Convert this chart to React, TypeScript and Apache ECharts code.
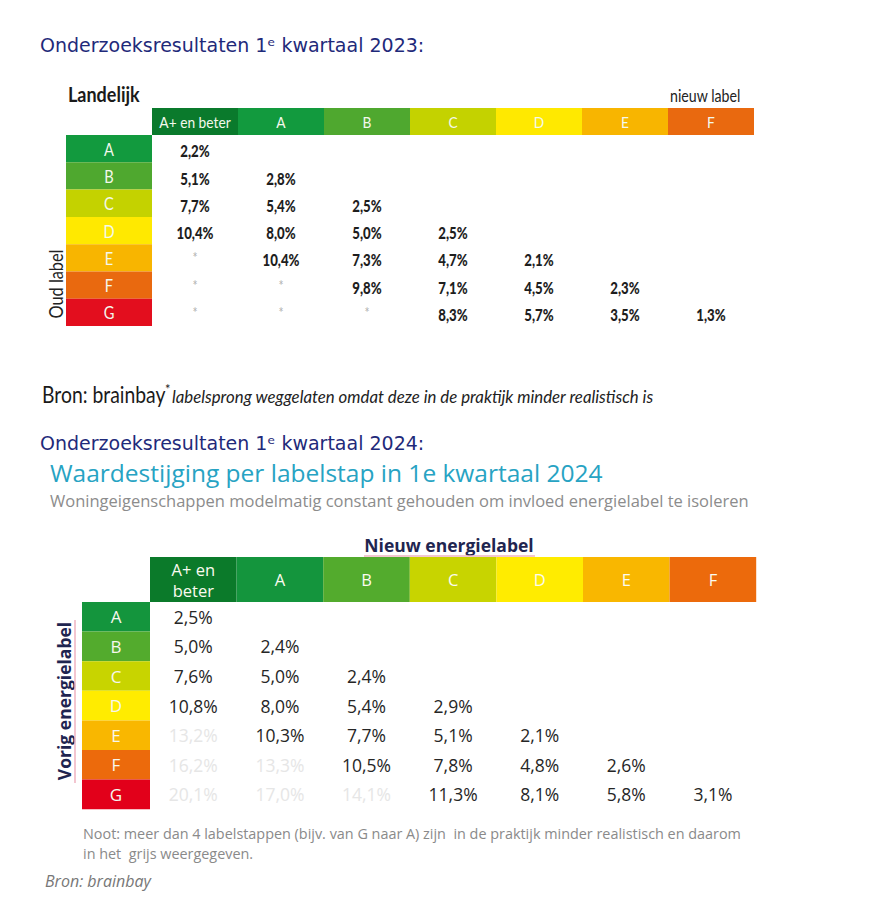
import React, { useEffect, useRef } from 'react';
import * as echarts from 'echarts';

// ---------- data ----------
const NEW_LABELS_2023 = ['A+ en beter', 'A', 'B', 'C', 'D', 'E', 'F'];
const NEW_LABELS_2024 = ['A+ en\nbeter', 'A', 'B', 'C', 'D', 'E', 'F'];
const OLD_LABELS = ['A', 'B', 'C', 'D', 'E', 'F', 'G'];

// rows = old label A..G, columns = new label A+..F ; null = labelsprong weggelaten (*)
const VALUES_2023: (number | null)[][] = [
  [2.2],
  [5.1, 2.8],
  [7.7, 5.4, 2.5],
  [10.4, 8.0, 5.0, 2.5],
  [null, 10.4, 7.3, 4.7, 2.1],
  [null, null, 9.8, 7.1, 4.5, 2.3],
  [null, null, null, 8.3, 5.7, 3.5, 1.3],
];

const VALUES_2024: number[][] = [
  [2.5],
  [5.0, 2.4],
  [7.6, 5.0, 2.4],
  [10.8, 8.0, 5.4, 2.9],
  [13.2, 10.3, 7.7, 5.1, 2.1],
  [16.2, 13.3, 10.5, 7.8, 4.8, 2.6],
  [20.1, 17.0, 14.1, 11.3, 8.1, 5.8, 3.1],
];

const MAX_REALISTIC_STEPS = 4;

const NEW_COLORS = ['#0a7a2c', '#129a3e', '#4fa82f', '#c4d200', '#ffe900', '#f8b500', '#e9690f'];
const OLD_COLORS = ['#129a3e', '#4fa82f', '#c4d200', '#ffe900', '#f8b500', '#e9690f', '#e30e1e'];

const NEW_COLORS_24 = ['#0b7a2a', '#14953d', '#53ab2d', '#c8d400', '#ffec00', '#f9b700', '#ec6a0c'];
const OLD_COLORS_24 = ['#14953d', '#53ab2d', '#c8d400', '#ffec00', '#f9b700', '#ec6a0c', '#e2001a'];

// ---------- fonts ----------
const NARROW = 'Lato, "Open Sans", sans-serif';
const NARROW_SX = 0.86;
const VERDANA = '"DejaVu Sans", Verdana, sans-serif';
const ROUND = '"Open Sans", "Noto Sans", sans-serif';

const fmt = (v: number) => v.toFixed(1).replace('.', ',') + '%';

function blockSeries(
  xi: number,
  data: number[][],
  labels: string[],
  colors: string[],
  font: { size: number; family: string; weight?: string; color: string; lh?: number; sx?: number; dy?: number }
) {
  return {
    type: 'custom',
    xAxisIndex: xi,
    yAxisIndex: xi,
    silent: true,
    data,
    renderItem: (params: any, api: any) => {
      const c = api.coord([api.value(0), api.value(1)]);
      const s = api.size([1, 1]);
      const i = params.dataIndex;
      return {
        type: 'group',
        children: [
          {
            type: 'rect',
            shape: { x: c[0] - s[0] / 2, y: c[1] - s[1] / 2, width: s[0], height: s[1] },
            style: { fill: colors[i] },
          },
          {
            type: 'text',
            x: c[0],
            y: c[1] + (font.dy || 0),
            scaleX: font.sx || 1,
            style: {
              text: labels[i],
              fill: font.color,
              align: 'center',
              verticalAlign: 'middle',
              fontSize: font.size,
              fontFamily: font.family,
              fontWeight: font.weight || 'normal',
              lineHeight: font.lh,
            },
          },
        ],
      };
    },
  };
}

export default function App() {
  const ref = useRef<HTMLDivElement>(null);

  useEffect(() => {
    document.body.style.margin = '0';
    const chart = echarts.init(ref.current!, null, { renderer: 'svg' });

    const t1 = { colLeft: 152, colW: 86, headTop: 108, headH: 27, rowTop: 135, rowH: 27.3, lblLeft: 66 };
    const t2 = { colLeft: 150, colW: 86.6, headTop: 557, headH: 45, rowTop: 602, rowH: 29.6, lblLeft: 82 };

    const grids: any[] = [];
    const xAxes: any[] = [];
    const yAxes: any[] = [];

    const addGrid = (g: any, xData: string[], yData: string[]) => {
      grids.push({ ...g, containLabel: false });
      const idx = grids.length - 1;
      xAxes.push({ type: 'category', gridIndex: idx, data: xData, show: false });
      yAxes.push({ type: 'category', gridIndex: idx, data: yData, inverse: true, show: false });
      return idx;
    };

    const g1h = addGrid({ left: t1.colLeft, top: t1.headTop, width: t1.colW * 7, height: t1.headH }, NEW_LABELS_2023, ['h']);
    const g1r = addGrid({ left: t1.lblLeft, top: t1.rowTop, width: t1.colLeft - t1.lblLeft, height: t1.rowH * 7 }, ['l'], OLD_LABELS);
    const g1v = addGrid({ left: t1.colLeft, top: t1.rowTop, width: t1.colW * 7, height: t1.rowH * 7 }, NEW_LABELS_2023, OLD_LABELS);
    const g2h = addGrid({ left: t2.colLeft, top: t2.headTop, width: t2.colW * 7, height: t2.headH }, NEW_LABELS_2024, ['h']);
    const g2r = addGrid({ left: t2.lblLeft, top: t2.rowTop, width: t2.colLeft - t2.lblLeft, height: t2.rowH * 7 }, ['l'], OLD_LABELS);
    const g2v = addGrid({ left: t2.colLeft, top: t2.rowTop, width: t2.colW * 7, height: t2.rowH * 7 }, NEW_LABELS_2024, OLD_LABELS);

    const cells2023: any[] = [];
    VALUES_2023.forEach((row, r) =>
      row.forEach((v, c) => cells2023.push([c, r, v === null ? '*' : fmt(v), v === null ? 1 : 0]))
    );
    const cells2024: any[] = [];
    VALUES_2024.forEach((row, r) =>
      row.forEach((v, c) => cells2024.push([c, r, fmt(v), r + 1 - c > MAX_REALISTIC_STEPS ? 1 : 0]))
    );

    const valueSeries = (gi: number, data: any[], style: any) => ({
      type: 'custom',
      xAxisIndex: gi,
      yAxisIndex: gi,
      silent: true,
      data,
      renderItem: (params: any, api: any) => {
        const c = api.coord([api.value(0), api.value(1)]);
        const d = data[params.dataIndex];
        const grey = d[3] === 1;
        return {
          type: 'text',
          x: c[0],
          y: c[1] + (style.dy || 0) + (grey && style.starDy ? style.starDy : 0),
          scaleX: style.sx || 1,
          style: {
            text: d[2],
            fill: grey ? style.grey : style.color,
            align: 'center',
            verticalAlign: 'middle',
            fontSize: grey && style.starSize ? style.starSize : style.size,
            fontFamily: style.family,
            fontWeight: grey && style.starSize ? 'normal' : style.weight,
          },
        };
      },
    });

    const series: any[] = [
      blockSeries(g1h, NEW_LABELS_2023.map((_, i) => [i, 0]), NEW_LABELS_2023, NEW_COLORS, {
        size: 16, family: NARROW, color: '#f4f8ec', sx: NARROW_SX,
      }),
      blockSeries(g1r, OLD_LABELS.map((_, i) => [0, i]), OLD_LABELS, OLD_COLORS, {
        size: 17, family: NARROW, color: '#f4f8ec', sx: NARROW_SX,
      }),
      valueSeries(g1v, cells2023, {
        size: 16.5, family: NARROW, weight: 900, color: '#1e1e1e', grey: '#b0b0b0', starSize: 15, starDy: -2, dy: 2, sx: 0.8,
      }),
      blockSeries(g2h, NEW_LABELS_2024.map((_, i) => [i, 0]), NEW_LABELS_2024, NEW_COLORS_24, {
        size: 16.5, family: ROUND, color: '#fbfbf0', lh: 21,
      }),
      blockSeries(g2r, OLD_LABELS.map((_, i) => [0, i]), OLD_LABELS, OLD_COLORS_24, {
        size: 17, family: ROUND, color: '#f7f7ee',
      }),
      valueSeries(g2v, cells2024, {
        size: 17.5, family: ROUND, weight: 'normal', color: '#262626', grey: '#e6e6e6',
      }),
    ];

    const txt = (x: number, y: number, text: string, st: any, extra: any = {}) => ({
      type: 'text',
      x,
      y,
      ...extra,
      style: { text, verticalAlign: 'middle', ...st },
    });

    const graphic: any[] = [
      txt(40, 45, 'Onderzoeksresultaten 1ᵉ kwartaal 2023:', { fill: '#1f2a7a', fontSize: 19, fontFamily: VERDANA }),
      txt(68, 94, 'Landelijk', { fill: '#1a1a1a', fontSize: 20, fontWeight: 'bold', fontFamily: NARROW }, { scaleX: 0.9 }),
      txt(670, 96, 'nieuw label', { fill: '#222', fontSize: 16.5, fontFamily: NARROW }, { scaleX: NARROW_SX }),
      txt(56, 284, 'Oud label', { fill: '#222', fontSize: 19, fontFamily: NARROW, align: 'center' }, { rotation: Math.PI / 2, scaleX: NARROW_SX }),
      txt(42, 394, 'Bron: brainbay', { fill: '#1a1a1a', fontSize: 22.5, fontFamily: NARROW }, { scaleX: NARROW_SX }),
      txt(165, 389, '*', { fill: '#222', fontSize: 13, fontFamily: NARROW }),
      txt(172, 396, 'labelsprong weggelaten omdat deze in de praktijk minder realistisch is', {
        fill: '#222', fontSize: 16.8, fontStyle: 'italic', fontFamily: NARROW,
      }),
      txt(40, 443, 'Onderzoeksresultaten 1ᵉ kwartaal 2024:', { fill: '#1f2a7a', fontSize: 19, fontFamily: VERDANA }),
      txt(50, 472, 'Waardestijging per labelstap in 1e kwartaal 2024', { fill: '#27a3c3', fontSize: 24.5, fontFamily: ROUND }),
      txt(50, 500, 'Woningeigenschappen modelmatig constant gehouden om invloed energielabel te isoleren', {
        fill: '#8c8c8c', fontSize: 16.5, fontFamily: ROUND,
      }),
      txt(449, 545, 'Nieuw energielabel', { fill: '#1f2550', fontSize: 17.5, fontWeight: 'bold', fontFamily: ROUND, align: 'center' }),
      { type: 'line', shape: { x1: 364, y1: 556, x2: 535, y2: 556 }, style: { stroke: '#efb3c0', lineWidth: 1.5 } },
      txt(64, 701, 'Vorig energielabel', { fill: '#1f2550', fontSize: 17.5, fontWeight: 'bold', fontFamily: ROUND, align: 'center' }, { rotation: Math.PI / 2 }),
      { type: 'line', shape: { x1: 75, y1: 620, x2: 75, y2: 783 }, style: { stroke: '#efb3c0', lineWidth: 1.5 } },
      txt(83, 833, 'Noot: meer dan 4 labelstappen (bijv. van G naar A) zijn  in de praktijk minder realistisch en daarom', {
        fill: '#8a8a8a', fontSize: 14.4, fontFamily: ROUND,
      }),
      txt(83, 853, 'in het  grijs weergegeven.', { fill: '#8a8a8a', fontSize: 14.4, fontFamily: ROUND }),
      txt(45, 881, 'Bron: brainbay', { fill: '#777', fontSize: 16, fontStyle: 'italic', fontFamily: ROUND }),
    ];

    chart.setOption({
      animation: false,
      backgroundColor: '#ffffff',
      grid: grids,
      xAxis: xAxes,
      yAxis: yAxes,
      series,
      graphic,
    });

    return () => chart.dispose();
  }, []);

  return <div ref={ref} style={{ width: 878, height: 904 }} />;
}
